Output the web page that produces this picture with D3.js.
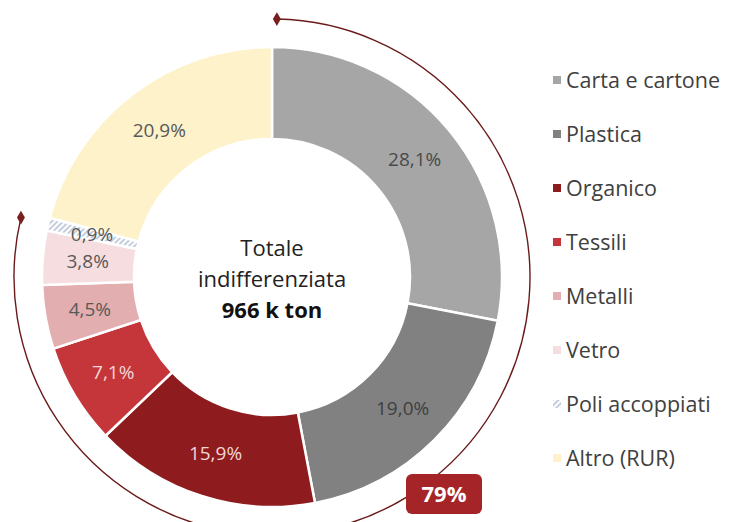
<!DOCTYPE html>
<html>
<head>
<meta charset="utf-8">
<script src="https://cdn.jsdelivr.net/npm/d3@7/dist/d3.min.js"></script>
<style>
  body { margin: 0; background: #fff; }
  svg { display: block; font-family: "Open Sans", Lato, sans-serif; }
</style>
</head>
<body>
<svg id="chart" width="730" height="522"></svg>
<script>
var categories = ["Carta e cartone", "Plastica", "Organico", "Tessili", "Metalli", "Vetro", "Poli accoppiati", "Altro (RUR)"];
var values = [28.1, 19.0, 15.9, 7.1, 4.5, 3.8, 0.9, 20.9];
var labels = ["28,1%", "19,0%", "15,9%", "7,1%", "4,5%", "3,8%", "0,9%", "20,9%"];
var colors = ["#a6a6a6", "#818181", "#8e1b1d", "#c5363b", "#e3aeb0", "#f6dde0", "url(#hatch)", "#fdf2c9"];
var legendColors = ["#a6a6a6", "#818181", "#8e1b1d", "#c5363b", "#e3aeb0", "#f6dde0", "url(#hatch)", "#fdf2c9"];
var labelColors = ["#4a4a4a", "#3f3f3f", "#f3d6d6", "#f3d6d6", "#595959", "#595959", "#595959", "#595959"];
var centerLines = ["Totale", "indifferenziata", "966 k ton"];
var bracketShare = 79; // % covered by the outer bracket
var bracketLabel = "79%";

var svg = d3.select("#chart");
var cx = 272, cy = 277, rOut = 230, rIn = 138, rBracket = 258;

var defs = svg.append("defs");
var pat = defs.append("pattern")
    .attr("id", "hatch")
    .attr("patternUnits", "userSpaceOnUse")
    .attr("width", 4).attr("height", 4)
    .attr("patternTransform", "rotate(45)");
pat.append("rect").attr("width", 4).attr("height", 4).attr("fill", "#fff");
pat.append("rect").attr("width", 2).attr("height", 4).attr("fill", "#c3cddc");

var g = svg.append("g").attr("transform", "translate(" + cx + "," + cy + ")");

var pie = d3.pie().sort(null).value(function (d) { return d; });
var arcs = pie(values);
var arc = d3.arc().innerRadius(rIn).outerRadius(rOut);

g.selectAll("path.slice")
    .data(arcs)
    .enter().append("path")
    .attr("class", "slice")
    .attr("d", arc)
    .attr("fill", function (d, i) { return colors[i]; })
    .attr("stroke", "#fff")
    .attr("stroke-width", 2.5);

var labelArc = d3.arc().innerRadius(185).outerRadius(185);
g.selectAll("text.pct")
    .data(arcs)
    .enter().append("text")
    .attr("class", "pct")
    .attr("transform", function (d) { return "translate(" + labelArc.centroid(d) + ")"; })
    .attr("text-anchor", "middle")
    .attr("dy", "0.35em")
    .attr("fill", function (d, i) { return labelColors[i]; })
    .attr("font-size", 19)
    .text(function (d, i) { return labels[i]; });

// centre text
g.selectAll("text.center")
    .data(centerLines)
    .enter().append("text")
    .attr("class", "center")
    .attr("text-anchor", "middle")
    .attr("y", function (d, i) { return -29 + i * 31; })
    .attr("dy", "0.35em")
    .attr("font-size", 22)
    .attr("font-weight", function (d, i) { return i === 2 ? "bold" : "normal"; })
    .attr("fill", function (d, i) { return i === 2 ? "#111" : "#222"; })
    .text(function (d) { return d; });

// outer bracket
var angle = d3.scaleLinear().domain([0, 100]).range([0, 2 * Math.PI]);
var a0 = angle(0.3), a1 = angle(bracketShare - 0.3);
var bracket = d3.arc().innerRadius(rBracket).outerRadius(rBracket).startAngle(a0).endAngle(a1);
g.append("path")
    .attr("d", bracket())
    .attr("fill", "none")
    .attr("stroke", "#6b1a1a")
    .attr("stroke-width", 1.4);
[a0, a1].forEach(function (a) {
    g.append("path")
        .attr("d", d3.symbol().type(d3.symbolDiamond).size(55)())
        .attr("transform", "translate(" + (rBracket * Math.sin(a)) + "," + (-rBracket * Math.cos(a)) + ")")
        .attr("fill", "#7a1e1e");
});

// bracket label
var lab = svg.append("g").attr("transform", "translate(444,494)");
lab.append("rect")
    .attr("x", -38).attr("y", -20)
    .attr("width", 76).attr("height", 40)
    .attr("rx", 6)
    .attr("fill", "#a52428");
lab.append("text")
    .attr("text-anchor", "middle")
    .attr("dy", "0.36em")
    .attr("fill", "#fff")
    .attr("font-weight", "bold")
    .attr("font-size", 22)
    .text(bracketLabel);

// legend
var legend = svg.append("g").attr("transform", "translate(553,80)");
var row = legend.selectAll("g")
    .data(categories)
    .enter().append("g")
    .attr("transform", function (d, i) { return "translate(0," + (i * 54) + ")"; });
row.append("rect")
    .attr("x", 0).attr("y", -4)
    .attr("width", 8).attr("height", 8)
    .attr("fill", function (d, i) { return legendColors[i]; });
row.append("text")
    .attr("x", 13)
    .attr("dy", "0.35em")
    .attr("font-size", 21.5)
    .attr("fill", "#404040")
    .text(function (d) { return d; });
</script>
</body>
</html>
